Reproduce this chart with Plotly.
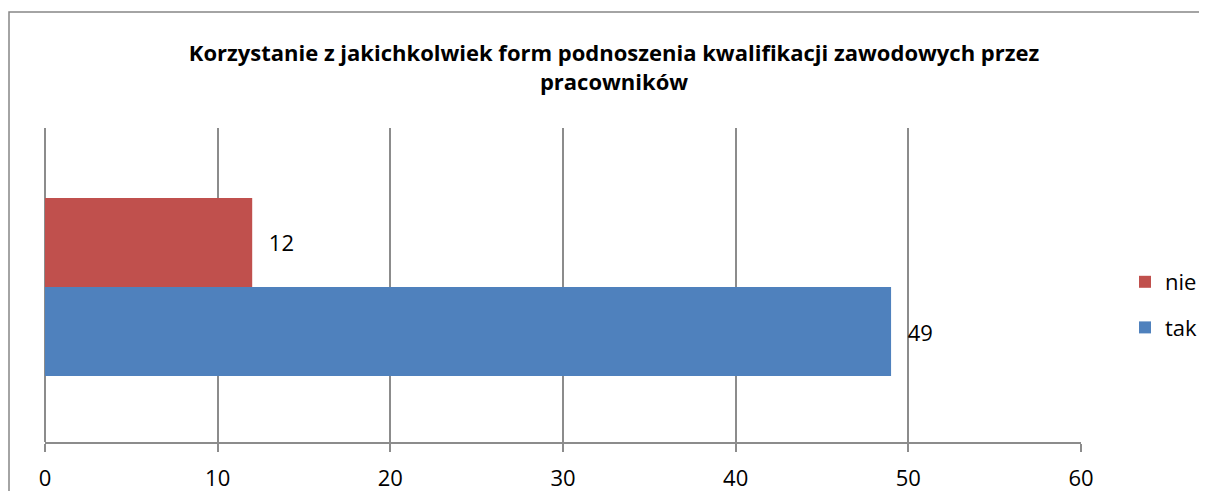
import plotly.graph_objects as go

categories = [""]
series_names = ["tak", "nie"]
tak_values = [49]
nie_values = [12]
colors = {"tak": "#4F81BD", "nie": "#C0504D"}
legend_rank = {"nie": 1, "tak": 2}
x_ticks = [0, 10, 20, 30, 40, 50, 60]
title_text = "<b>Korzystanie z jakichkolwiek form podnoszenia kwalifikacji zawodowych przez<br>pracowników</b>"

FONT = "Open Sans"
grid = "#8C8C8C"

fig = go.Figure()
for name, vals in zip(series_names, [tak_values, nie_values]):
    fig.add_trace(go.Bar(
        name=name, y=categories, x=vals, orientation="h",
        marker=dict(color=colors[name], line=dict(width=0)),
        text=vals, texttemplate="  \u200a%{x}", textposition="outside",
        textfont=dict(family=FONT, size=22, color="#000000"),
        cliponaxis=False, legendgroup=name, legendrank=legend_rank[name],
    ))

OFF = 8  # page body margin
W, H = 1207 - 2 * OFF, 499 - 2 * OFF
L, T = 45 - OFF, 128 - OFF
R = W - (1081 - OFF)
B = H - (442 - OFF)
pw, ph = W - L - R, H - T - B
shift = 2 / ph

fig.update_layout(
    width=W, height=H,
    margin=dict(l=L, r=R, t=T, b=B, pad=0, autoexpand=False),
    paper_bgcolor="white", plot_bgcolor="white",
    barmode="group", bargap=0.433, bargroupgap=0,
    title=dict(text=title_text, x=(614 - OFF - L) / pw, xanchor="center", xref="paper",
               y=1 - (61 - OFF) / H, yanchor="middle",
               font=dict(family=FONT, size=22, color="#000000")),
    font=dict(family=FONT, color="#000000"),
    xaxis=dict(range=[0, 60], tickvals=x_ticks, showgrid=True, gridcolor=grid, gridwidth=1.5,
               zeroline=True, zerolinecolor=grid, zerolinewidth=1.5,
               showline=True, linecolor=grid, linewidth=1.5,
               ticks="outside", ticklen=8, tickcolor=grid, tickwidth=1.5,
               ticklabelstandoff=8,
               tickfont=dict(family=FONT, size=22, color="#000000"), fixedrange=True),
    yaxis=dict(range=[-0.5 + shift, 0.5 + shift], showticklabels=False, showgrid=False, zeroline=False,
               showline=False, ticks=""),
    legend=dict(x=(1125 - OFF - L) / pw, xanchor="left", y=(H - B - (305 - OFF)) / ph, yanchor="middle",
                traceorder="grouped", tracegroupgap=14,
                font=dict(family=FONT, size=22, color="#000000"), bgcolor="rgba(0,0,0,0)"),
    shapes=[dict(type="rect", xref="paper", yref="paper",
                 x0=(9 - OFF - L) / pw, x1=(W + 20 - L) / pw,
                 y0=-(B + 20) / ph, y1=(H - B - (12 - OFF)) / ph,
                 line=dict(color="#868686", width=1.5), fillcolor="rgba(0,0,0,0)", layer="below")],
)
fig.write_html("out.html")
